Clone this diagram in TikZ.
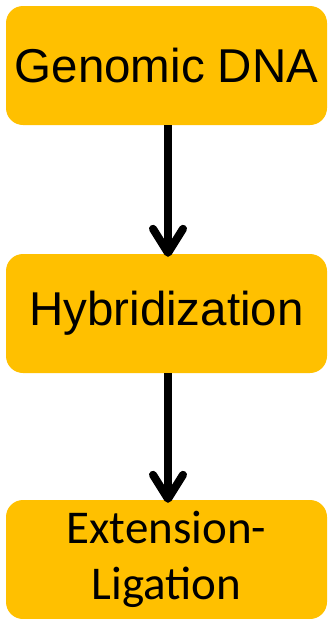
\documentclass[tikz,border=0pt]{standalone}
\usepackage{fontspec}
\setmainfont{Liberation Sans}
\newfontfamily\calfont{Carlito}
\usetikzlibrary{arrows.meta}
\definecolor{boxorange}{HTML}{FFC000}
\begin{document}
\begin{tikzpicture}[x=1pt,y=-1pt,
  stepbox/.style={fill=boxorange,draw=none,rounded corners=17pt,
    minimum width=321pt,minimum height=119pt,inner sep=0pt,align=center,
    font=\fontsize{47.5}{56}\selectfont},
  flow/.style={line width=8pt,
    -{Straight Barb[length=24pt,width=30pt,line cap=round,line join=round]}}]
\useasboundingbox (0,0) rectangle (327,619);
\clip (0,0) rectangle (327,619);
\node[stepbox] (b1) at (166.5,65.5) {Genomic DNA};
\node[stepbox] (b2) at (166.5,313.5) {Hybridization};
\node[stepbox,font=\calfont\fontsize{47}{56}\selectfont] (b3) at (166.5,559.5) {Extension-\\Ligation};
\draw[flow] ([xshift=1.5pt]b1.south) -- ([xshift=1.5pt,yshift=-3pt]b2.north);
\draw[flow] ([xshift=1.5pt]b2.south) -- ([xshift=1.5pt,yshift=-3pt]b3.north);
\end{tikzpicture}
\end{document}
